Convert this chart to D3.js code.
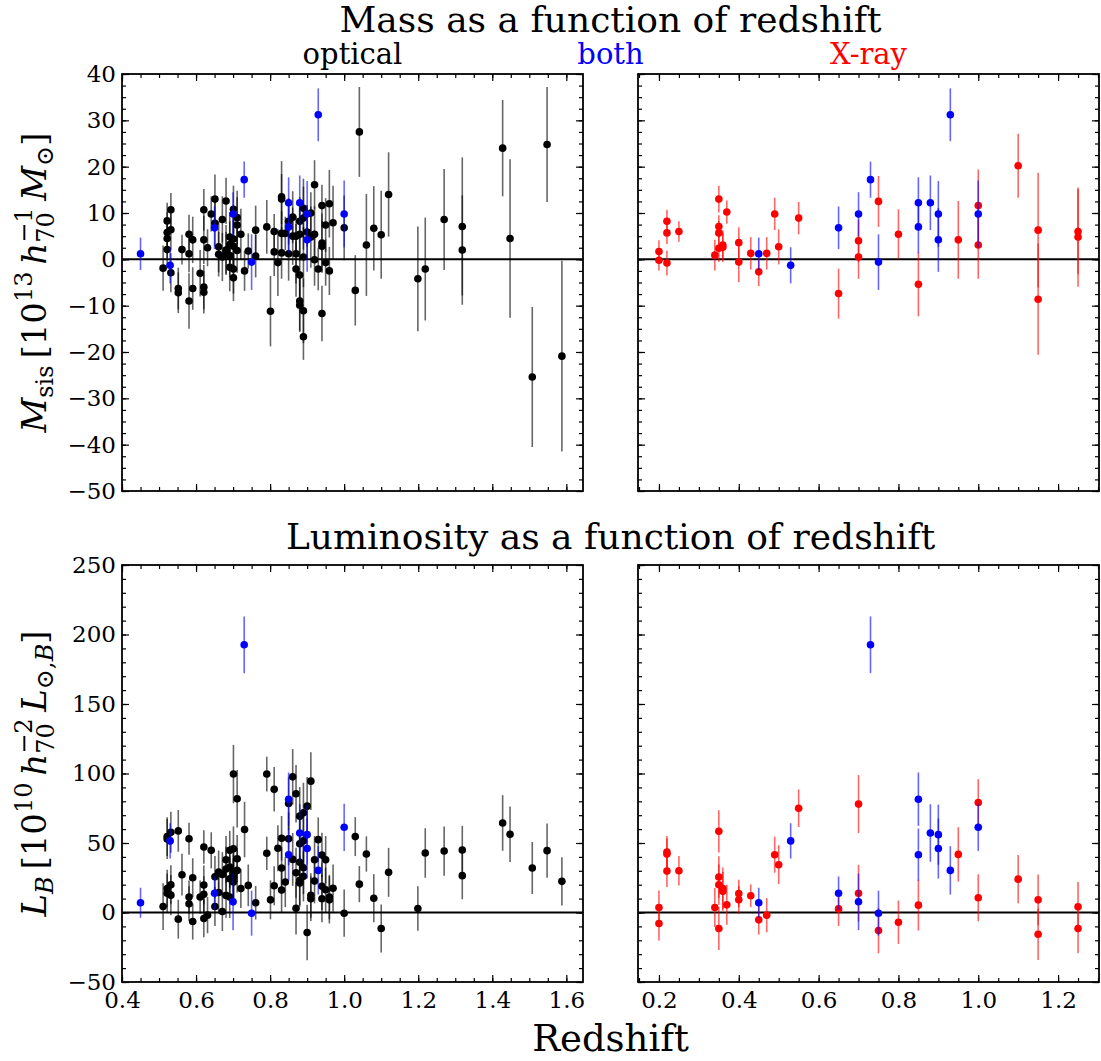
<!DOCTYPE html>
<html>
<head>
<meta charset="utf-8">
<script src="https://cdn.jsdelivr.net/npm/d3@7"></script>
<style>
  body { margin: 0; background: #fff; }
  svg text { font-family: "DejaVu Serif", serif; }
</style>
</head>
<body>
<svg id="chart" width="1101" height="1061"></svg>
<script>
// [redshift, value, error]
var opticalMass = [
  [0.511, -1.9, 4.9], [0.522, 2.1, 4.0], [0.522, 4.5, 4.2], [0.522, 5.8, 4.4], [0.522, 8.3, 3.9],
  [0.532, 10.7, 3.6], [0.532, 6.4, 4.5], [0.532, -2.9, 4.2], [0.552, -6.3, 4.5], [0.552, -7.2, 4.4],
  [0.562, 2.1, 3.2], [0.581, 5.4, 4.2], [0.581, 1.2, 4.0], [0.581, -9.0, 6.0], [0.591, 4.2, 5.0],
  [0.591, -6.3, 4.6], [0.611, -3.0, 5.0], [0.621, 10.7, 4.5], [0.621, 4.2, 5.2], [0.621, -6.0, 4.8],
  [0.621, -7.1, 4.6], [0.631, 2.5, 4.0], [0.641, 9.8, 3.8], [0.651, 13.0, 5.3], [0.651, 7.8, 5.0],
  [0.661, 2.7, 5.5], [0.661, 1.1, 4.8], [0.671, 0.5, 5.2], [0.671, 8.6, 5.0], [0.681, 12.6, 5.0],
  [0.681, 2.0, 5.4], [0.681, 1.4, 4.5], [0.691, 4.8, 5.4], [0.691, 3.2, 5.0], [0.691, 0.8, 4.6],
  [0.691, -1.7, 5.2], [0.701, 10.8, 5.1], [0.701, 4.4, 6.0], [0.701, 2.8, 5.6], [0.701, -2.1, 5.3],
  [0.701, -4.0, 5.0], [0.711, 9.0, 5.8], [0.711, 7.4, 6.0], [0.711, 1.9, 4.8], [0.721, 5.4, 5.5],
  [0.731, -2.5, 4.3], [0.741, 1.8, 3.8], [0.761, 6.3, 5.3], [0.761, 0.7, 4.6], [0.791, 7.0, 5.8],
  [0.801, -11.2, 7.6], [0.811, 6.0, 3.8], [0.811, 1.6, 5.2], [0.821, -0.7, 7.2], [0.831, 13.5, 7.7],
  [0.831, 13.0, 5.4], [0.831, 5.6, 4.8], [0.831, 1.4, 5.6], [0.841, 5.6, 3.6], [0.850, 8.2, 5.0],
  [0.850, 1.2, 5.8], [0.861, 9.1, 5.6], [0.861, 5.0, 6.2], [0.870, 5.0, 4.4], [0.870, 1.2, 6.4],
  [0.870, -2.1, 6.0], [0.880, 8.2, 5.2], [0.880, 5.4, 5.7], [0.880, -3.4, 6.4], [0.880, -9.0, 6.4],
  [0.880, -9.9, 5.8], [0.890, 11.0, 6.4], [0.890, 8.9, 6.8], [0.890, 0.5, 6.5], [0.890, -11.1, 7.0],
  [0.890, -16.7, 5.0], [0.900, 5.9, 5.8], [0.910, 10.0, 4.5], [0.910, 4.8, 6.6], [0.920, 16.1, 5.3],
  [0.920, 5.4, 6.0], [0.920, -0.1, 5.6], [0.930, -2.1, 4.6], [0.940, 11.6, 4.5], [0.940, 3.5, 6.4],
  [0.940, 2.8, 5.5], [0.940, -11.7, 6.0], [0.950, 7.4, 5.8], [0.950, -0.7, 5.0], [0.960, 12.0, 7.3],
  [0.960, -2.5, 5.2], [0.970, 7.9, 8.0], [1.000, 6.8, 7.0], [1.030, -6.7, 7.6], [1.041, 27.5, 9.7],
  [1.060, 3.1, 11.0], [1.080, 6.7, 9.1], [1.100, 5.3, 9.5], [1.120, 14.0, 9.1], [1.199, -4.2, 11.3],
  [1.219, -2.1, 11.1], [1.270, 8.6, 10.9], [1.319, 7.1, 14.9], [1.319, 2.0, 11.8], [1.428, 24.0, 10.4],
  [1.448, 4.5, 17.1], [1.508, -25.4, 15.1], [1.548, 24.8, 12.4], [1.588, -20.9, 20.6]
];

var bothMass = [
  [0.45, 1.2, 3.5], [0.53, -1.3, 3.9], [0.65, 6.8, 4.6], [0.70, 9.8, 4.7], [0.73, 17.2, 3.9],
  [0.75, -0.6, 6.0], [0.85, 12.2, 5.5], [0.85, 7.0, 5.7], [0.88, 12.2, 5.9], [0.90, 9.8, 7.1],
  [0.90, 4.2, 6.9], [0.93, 31.2, 5.7], [1.00, 9.8, 7.2]
];

var xrayMass = [
  [0.20, 1.7, 2.4], [0.20, -0.2, 2.2], [0.22, 8.2, 2.5], [0.22, 5.7, 2.4], [0.22, -0.8, 2.7],
  [0.25, 6.0, 2.2], [0.34, 0.9, 3.3], [0.35, 13.0, 2.9], [0.35, 7.1, 2.4], [0.35, 5.7, 2.6],
  [0.35, 2.4, 3.0], [0.36, 3.1, 3.2], [0.36, 2.6, 3.2], [0.37, 10.2, 2.5], [0.40, 3.6, 3.3],
  [0.40, -0.6, 4.3], [0.43, 1.3, 3.5], [0.45, -2.7, 3.1], [0.47, 1.3, 3.5], [0.49, 9.8, 3.5],
  [0.50, 2.7, 3.8], [0.55, 8.9, 3.5], [0.65, -7.4, 5.4], [0.70, 4.0, 4.6], [0.70, 0.5, 4.7],
  [0.75, 12.5, 5.5], [0.80, 5.4, 5.4], [0.85, -5.4, 6.9], [0.95, 4.2, 8.4], [1.00, 11.6, 7.8],
  [1.00, 3.1, 7.3], [1.10, 20.2, 6.9], [1.15, 6.3, 12.4], [1.15, -8.6, 12.0], [1.25, 6.0, 9.2],
  [1.25, 4.8, 10.7]
];

var opticalLum = [
  [0.511, 4.3, 16.8], [0.522, 17.3, 13.5], [0.522, 13.9, 14.0], [0.522, 52.9, 14.4], [0.522, 54.6, 14.0],
  [0.532, 57.7, 14.7], [0.532, 20.0, 14.0], [0.532, 12.5, 14.5], [0.552, -4.8, 14.0], [0.552, 58.7, 15.0],
  [0.562, 27.2, 15.0], [0.581, 53.1, 11.5], [0.581, 11.1, 12.0], [0.581, 6.3, 12.5], [0.591, 25.0, 14.0],
  [0.591, -6.5, 13.0], [0.611, 11.1, 12.0], [0.621, 47.1, 12.0], [0.621, 19.8, 14.0], [0.621, 13.1, 13.0],
  [0.621, -4.3, 13.5], [0.631, -1.9, 13.0], [0.641, 44.7, 13.0], [0.651, 25.7, 15.0], [0.651, 4.3, 14.0],
  [0.661, 29.1, 15.5], [0.661, 14.4, 15.0], [0.671, 0.7, 14.0], [0.671, 27.4, 16.0], [0.681, 31.3, 16.0],
  [0.681, 12.3, 16.0], [0.681, 38.0, 17.0], [0.691, 32.7, 15.0], [0.691, 44.7, 14.0], [0.691, 24.3, 16.0],
  [0.691, 11.1, 15.0], [0.701, 99.6, 21.0], [0.701, 45.9, 16.0], [0.701, 21.9, 17.0], [0.701, 28.6, 18.0],
  [0.701, 25.5, 16.0], [0.711, 81.8, 20.7], [0.711, 38.7, 17.0], [0.711, 30.3, 16.0], [0.721, 17.3, 14.0],
  [0.731, 59.7, 20.0], [0.741, 19.5, 15.0], [0.761, 7.0, 12.0], [0.791, 99.6, 12.5], [0.791, 42.6, 12.0],
  [0.801, 9.1, 14.0], [0.811, 88.6, 16.0], [0.811, 19.2, 14.0], [0.821, 46.2, 16.6], [0.831, 53.4, 16.0],
  [0.831, 32.0, 15.0], [0.831, 16.1, 16.0], [0.841, 21.9, 18.0], [0.850, 53.0, 19.0], [0.850, 78.4, 19.0],
  [0.861, 97.6, 20.0], [0.861, 38.2, 19.0], [0.870, 85.4, 20.7], [0.870, 28.6, 18.0], [0.870, 3.1, 19.0],
  [0.880, 69.3, 21.0], [0.880, 49.5, 19.0], [0.880, 36.1, 18.0], [0.880, 23.1, 18.0], [0.880, 21.2, 17.0],
  [0.890, 71.7, 21.6], [0.890, 51.5, 19.0], [0.890, 32.2, 19.0], [0.890, 26.0, 18.0], [0.900, 76.5, 21.0],
  [0.900, -14.4, 20.0], [0.910, 94.5, 20.7], [0.910, 12.3, 16.0], [0.910, 9.9, 16.0], [0.920, 38.0, 17.0],
  [0.920, 22.6, 16.0], [0.930, 52.4, 16.0], [0.940, 41.3, 16.0], [0.940, 18.8, 17.0], [0.940, 9.9, 17.0],
  [0.950, 38.0, 17.0], [0.950, 16.4, 16.0], [0.960, 11.1, 16.0], [0.960, 9.1, 17.0], [0.970, 17.5, 17.0],
  [1.000, -0.5, 17.0], [1.030, 54.6, 14.0], [1.041, 20.4, 13.0], [1.060, 42.1, 12.7], [1.080, 10.3, 17.3],
  [1.100, -11.5, 17.3], [1.120, 28.9, 17.6], [1.199, 2.9, 16.0], [1.219, 42.8, 17.8], [1.270, 44.2, 17.7],
  [1.319, 45.0, 17.3], [1.319, 26.5, 17.0], [1.428, 64.4, 20.0], [1.448, 56.3, 20.0], [1.508, 32.0, 18.7],
  [1.548, 44.5, 19.5], [1.588, 22.4, 17.3]
];

var bothLum = [
  [0.45, 7.0, 10.8], [0.53, 51.5, 12.7], [0.65, 13.9, 12.0], [0.70, 7.7, 20.4], [0.73, 192.6, 20.4],
  [0.75, -0.5, 16.2], [0.85, 81.5, 19.2], [0.85, 41.6, 18.8], [0.88, 57.2, 20.7], [0.90, 56.0, 21.6],
  [0.90, 46.0, 21.6], [0.93, 30.3, 17.4], [1.00, 61.3, 17.0]
];

var xrayLum = [
  [0.20, 3.6, 12.3], [0.20, -7.9, 12.3], [0.22, 43.5, 11.5], [0.22, 42.0, 11.5], [0.22, 29.8, 11.5],
  [0.25, 30.0, 10.6], [0.34, 3.6, 14.0], [0.35, 58.4, 15.2], [0.35, 25.5, 15.0], [0.35, 20.0, 14.5],
  [0.35, -11.5, 15.4], [0.36, 17.3, 15.0], [0.36, 15.2, 14.0], [0.37, 5.5, 14.4], [0.40, 13.7, 9.9],
  [0.40, 9.1, 10.0], [0.43, 12.0, 8.2], [0.45, -5.3, 10.6], [0.47, -1.9, 12.3], [0.49, 41.6, 13.0],
  [0.50, 34.4, 14.0], [0.55, 75.0, 13.5], [0.65, 2.6, 12.3], [0.70, 78.0, 20.9], [0.70, 13.9, 20.4],
  [0.75, -13.0, 16.4], [0.80, -7.0, 15.6], [0.85, 5.3, 18.3], [0.95, 41.8, 19.6], [1.00, 79.1, 16.8],
  [1.00, 10.6, 16.9], [1.10, 24.0, 17.3], [1.15, 9.1, 18.3], [1.15, -15.6, 18.5], [1.25, 4.1, 17.8],
  [1.25, -11.5, 17.8]
];

var massTicks = [40, 30, 20, 10, 0, -10, -20, -30, -40, -50];
var lumTicks = [250, 200, 150, 100, 50, 0, -50];
var optZTicks = [0.4, 0.6, 0.8, 1.0, 1.2, 1.4, 1.6];
var xrayZTicks = [0.2, 0.4, 0.6, 0.8, 1.0, 1.2];

var BLACK = '#000000', BLUE = '#0000ff', RED = '#ff0000';

var svg = d3.select('#chart');

var leftX = 122, rightX = 638, panelW = 461;
var topY = 74, botY = 565, panelH = 417;

var xOpt = d3.scaleLinear().domain([0.4, 1.645]).range([leftX, leftX + panelW]);
var xXray = d3.scaleLinear().domain([0.1475, 1.3025]).range([rightX, rightX + panelW]);
var yMass = d3.scaleLinear().domain([-50, 40]).range([topY + panelH, topY]);
var yLum = d3.scaleLinear().domain([-50, 250]).range([botY + panelH, botY]);

function minorRange(scale, step) {
    var d = scale.domain();
    var lo = Math.ceil(Math.min(d[0], d[1]) / step - 1e-9), hi = Math.floor(Math.max(d[0], d[1]) / step + 1e-9);
    return d3.range(lo, hi + 1).map(function (i) { return +(i * step).toFixed(4); });
}

function tickAxis(axisFn, scale, values, size, fmt, translate) {
    var ax = axisFn(scale).tickValues(values).tickSize(-size).tickSizeOuter(0);
    ax.tickPadding(axisFn === d3.axisLeft ? 6 : 10);
    ax.tickFormat(fmt || function () { return ''; });
    var g = svg.append('g')
        .attr('transform', translate)
        .call(ax);
    // the axis call sets its own font, so override afterwards
    g.attr('font-family', '"DejaVu Serif", serif').attr('font-size', 23);
    g.select('.domain').remove();
    g.selectAll('.tick line').attr('stroke', '#000').attr('stroke-width', 1.2);
    g.selectAll('.tick text').attr('fill', '#000');
}

function drawPanel(id, x, y, series, zMajor, yMajor, yMinorStep, showX, showY) {
    var r = x.range(), t = y.range();
    var x0 = r[0], x1 = r[1], y0 = t[1], y1 = t[0];

    svg.append('clipPath').attr('id', id)
        .append('rect').attr('x', x0).attr('y', y0).attr('width', x1 - x0).attr('height', y1 - y0);

    var plot = svg.append('g').attr('clip-path', 'url(#' + id + ')');

    plot.append('line')
        .attr('x1', x0).attr('x2', x1)
        .attr('y1', y(0)).attr('y2', y(0))
        .attr('stroke', '#000').attr('stroke-width', 2);

    series.forEach(function (s) {
        plot.append('g').selectAll('line')
            .data(s.data).enter().append('line')
            .attr('x1', function (d) { return x(d[0]); })
            .attr('x2', function (d) { return x(d[0]); })
            .attr('y1', function (d) { return y(d[1] - d[2]); })
            .attr('y2', function (d) { return y(d[1] + d[2]); })
            .attr('stroke', s.color)
            .attr('stroke-opacity', 0.6)
            .attr('stroke-width', 1.6);
        plot.append('g').selectAll('circle')
            .data(s.data).enter().append('circle')
            .attr('cx', function (d) { return x(d[0]); })
            .attr('cy', function (d) { return y(d[1]); })
            .attr('r', 3.8)
            .attr('fill', s.color);
    });

    var xMinor = minorRange(x, 0.05);
    var yMinor = minorRange(y, yMinorStep);
    var fmtX = showX ? d3.format('.1f') : null;
    var fmtY = showY ? d3.format('d') : null;

    tickAxis(d3.axisBottom, x, xMinor, 4, null, 'translate(0,' + y1 + ')');
    tickAxis(d3.axisBottom, x, zMajor, 7, fmtX, 'translate(0,' + y1 + ')');
    tickAxis(d3.axisTop, x, xMinor, 4, null, 'translate(0,' + y0 + ')');
    tickAxis(d3.axisTop, x, zMajor, 7, null, 'translate(0,' + y0 + ')');
    tickAxis(d3.axisLeft, y, yMinor, 4, null, 'translate(' + x0 + ',0)');
    tickAxis(d3.axisLeft, y, yMajor, 7, fmtY, 'translate(' + x0 + ',0)');
    tickAxis(d3.axisRight, y, yMinor, 4, null, 'translate(' + x1 + ',0)');
    tickAxis(d3.axisRight, y, yMajor, 7, null, 'translate(' + x1 + ',0)');

    svg.append('rect')
        .attr('x', x0).attr('y', y0).attr('width', x1 - x0).attr('height', y1 - y0)
        .attr('fill', 'none').attr('stroke', '#000').attr('stroke-width', 1.8);
}

drawPanel('clipA', xOpt, yMass, [{ data: opticalMass, color: BLACK }, { data: bothMass, color: BLUE }],
    optZTicks, massTicks, 2.5, false, true);
drawPanel('clipB', xXray, yMass, [{ data: xrayMass, color: RED }, { data: bothMass, color: BLUE }],
    xrayZTicks, massTicks, 2.5, false, false);
drawPanel('clipC', xOpt, yLum, [{ data: opticalLum, color: BLACK }, { data: bothLum, color: BLUE }],
    optZTicks, lumTicks, 10, true, true);
drawPanel('clipD', xXray, yLum, [{ data: xrayLum, color: RED }, { data: bothLum, color: BLUE }],
    xrayZTicks, lumTicks, 10, true, false);

// titles
var midX = (leftX + rightX + panelW) / 2;
svg.append('text').attr('x', midX).attr('y', 32).attr('text-anchor', 'middle')
    .attr('font-size', 36).text('Mass as a function of redshift');
svg.append('text').attr('x', midX).attr('y', 549).attr('text-anchor', 'middle')
    .attr('font-size', 36).text('Luminosity as a function of redshift');
svg.append('text').attr('x', leftX + panelW / 2).attr('y', 64).attr('text-anchor', 'middle')
    .attr('font-size', 29).attr('fill', BLACK).text('optical');
svg.append('text').attr('x', midX).attr('y', 64).attr('text-anchor', 'middle')
    .attr('font-size', 29).attr('fill', BLUE).text('both');
svg.append('text').attr('x', rightX + panelW / 2).attr('y', 64).attr('text-anchor', 'middle')
    .attr('font-size', 29).attr('fill', RED).text('X-ray');
svg.append('text').attr('x', midX).attr('y', 1051).attr('text-anchor', 'middle')
    .attr('font-size', 37).text('Redshift');

// math-style rotated y labels
function mathLabel(cx, cy, pieces) {
    var g = svg.append('g').attr('transform', 'translate(' + cx + ',' + cy + ') rotate(-90)');
    var cursor = 0, lastStart = 0, lastEnd = 0, items = [];
    pieces.forEach(function (p) {
        var start = p.stack ? lastStart : cursor;
        var el = g.append('text')
            .attr('x', start).attr('y', p.dy || 0)
            .attr('font-size', p.size || 34)
            .attr('font-style', p.italic ? 'italic' : 'normal')
            .text(p.t);
        var w = el.node().getComputedTextLength();
        items.push(el);
        lastStart = start;
        cursor = Math.max(p.stack ? lastEnd : start + w, start + w);
        lastEnd = cursor;
    });
    items.forEach(function (el) { el.attr('x', +el.attr('x') - cursor / 2); });
}

mathLabel(46, (topY + topY + panelH) / 2, [
    { t: 'M', italic: true }, { t: 'sis', size: 24, dy: 7 },
    { t: '\u2009[10' }, { t: '13', size: 24, dy: -14 },
    { t: '\u2009' }, { t: 'h', italic: true }, { t: '70', size: 24, dy: 8 }, { t: '\u22121', size: 24, dy: -14, stack: true },
    { t: '\u2009' }, { t: 'M', italic: true }, { t: '\u2299', size: 24, dy: 7 }, { t: ']' }
]);

mathLabel(46, (botY + botY + panelH) / 2, [
    { t: 'L', italic: true }, { t: 'B', size: 24, dy: 7, italic: true },
    { t: '\u2009[10' }, { t: '10', size: 24, dy: -14 },
    { t: '\u2009' }, { t: 'h', italic: true }, { t: '70', size: 24, dy: 8 }, { t: '\u22122', size: 24, dy: -14, stack: true },
    { t: '\u2009' }, { t: 'L', italic: true }, { t: '\u2299,', size: 24, dy: 7 }, { t: 'B', size: 24, dy: 7, italic: true }, { t: ']' }
]);
</script>
</body>
</html>
